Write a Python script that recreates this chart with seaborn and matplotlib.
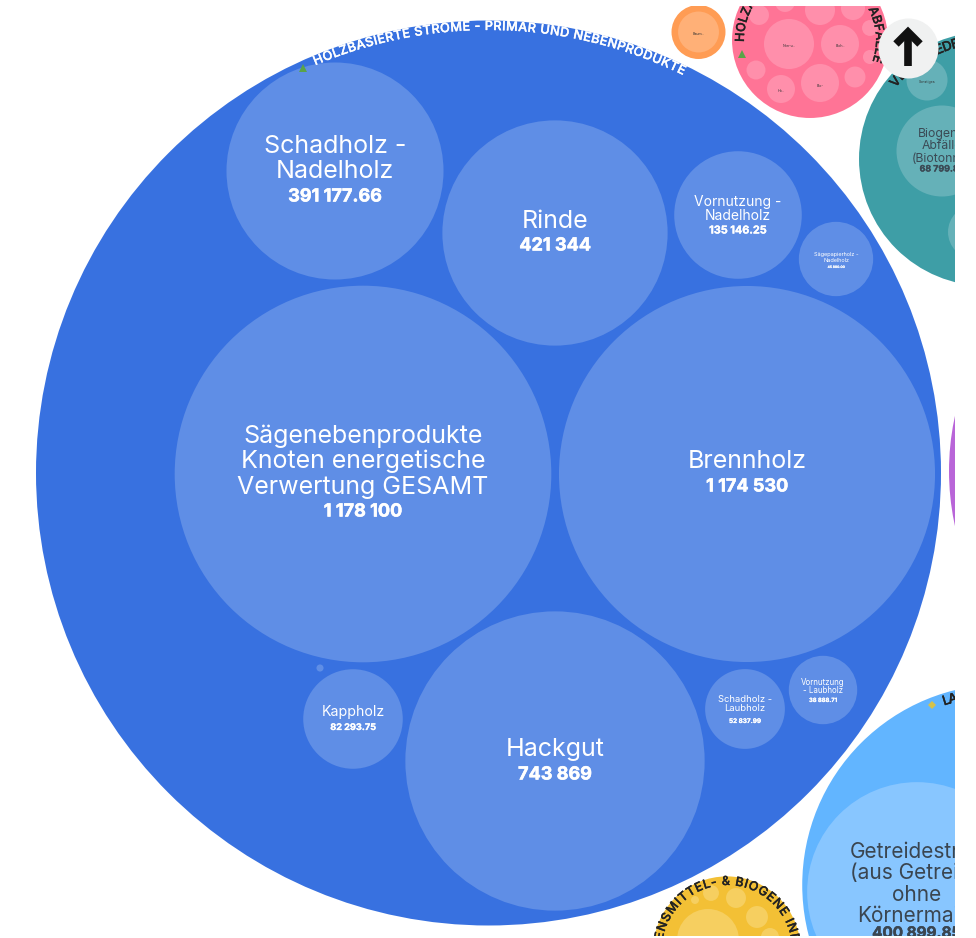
import numpy as np
import pandas as pd
import matplotlib
matplotlib.use("Agg")
import matplotlib.pyplot as plt
import matplotlib.patheffects as pe
import seaborn as sns
from matplotlib.font_manager import FontProperties
from matplotlib.textpath import TextPath

W, H = 976, 938
FONT = "Inter"
PX_PER_UNIT = 0.1735          # bubble radius (px) = k * sqrt(value)

# ---- values -------------------------------------------------------------
group_names = ["Holz", "Abfall", "Org", "Bio", "Lila", "Land", "Lebensm"]
group_values = [6802000, 202000, 24200, 535700, 2211000, 1339000, 180000]
group_colors = ["#3871e0", "#ff7496", "#ff9c54", "#3e9ea6", "#b965d8", "#62b5ff", "#f3c035"]
group_x = [488.5, 810, 698.5, 986, 1207, 1003, 727]
group_y = [473, 40, 32, 159, 471, 885, 950]

child_group = ["Holz"] * 11 + ["Abfall"] * 12 + ["Org"] + ["Bio"] * 3 + ["Land"] + ["Lebensm"] * 6
child_values = [391177.66, 421344, 135146.25, 45880, 1178100, 1174530, 743869, 82293.75, 52837.99, 38888.71, 420,
                20800, 12000, 12000, 6500, 3000, 3650, 3300, 7500, 4800, 3300, 2100, 1650,
                13900,
                14000, 68799.85, 24200,
                400899.85,
                31900, 3300, 4000, 2100, 530, 2700]
child_x = [335, 555, 738, 836, 363, 747, 555, 353, 745, 823, 320,
           789, 840, 820, 781, 756, 855, 759, 820, 853, 785, 870, 870,
           698.5,
           927, 942, 975,
           917,
           708, 736, 757, 711, 695, 770]
child_y = [171, 233, 215, 259, 474, 474, 761, 719, 709, 690, 668,
           44, 44, 83, 89, 70, 77, 15, 10, 8, 2, 28, 57,
           32,
           80, 151, 232,
           892,
           940, 898, 917, 893, 900, 937]
tint_colors = {"Holz": "#5f8ee6", "Abfall": "#ff8fab", "Org": "#ffb077", "Bio": "#65b1b8",
               "Land": "#88c6ff", "Lebensm": "#f6cf60"}

# ---- texts --------------------------------------------------------------
names = ["Schadholz -\nNadelholz", "Rinde", "Vornutzung -\nNadelholz", "Sägepapierholz -\nNadelholz",
         "Sägenebenprodukte\nKnoten energetische\nVerwertung GESAMT", "Brennholz", "Hackgut", "Kappholz",
         "Schadholz -\nLaubholz", "Vornutzung\n- Laubholz",
         "Biogene\nAbfälle\n(Biotonne)", "Getreidestroh\n(aus Getreide\nohne\nKörnermais)"]
numbers = ["391 177.66", "421 344", "135 146.25", "45 880.00", "1 178 100", "1 174 530", "743 869", "82 293.75",
           "52 837.99", "38 888.71", "68 799.85", "400 899.85"]
name_x = [335, 555, 738, 836, 363, 747, 555, 353, 745, 823, 942, 917]
name_top = [146, 221, 202, 254.5, 436, 461, 749, 712, 699, 682.5, 134, 852]
number_y = [197, 246, 230.5, 267, 512, 487, 775, 727.5, 721, 700.5, 169, 933]
name_size = [18, 18, 10, 4, 18, 18, 18, 10.2, 6.8, 5.7, 8.8, 15]
number_size = [13, 13, 7.8, 2.4, 13, 13, 13, 6.6, 4.6, 4.2, 6.4, 11]
name_colors = ["white"] * 10 + ["#3b4a55", "#3a4550"]

tiny_names = ["Non-u..", "Bioh..", "Bio-", "Ho..", "Baum..", "Sonstiges"]
tiny_x = [789, 840, 820, 781, 698, 927]
tiny_y = [46, 46, 86, 91, 34, 82]

arc_titles = ["HOLZBASIERTE STRÖME - PRIMÄR UND NEBENPRODUKTE",
              "HOLZARTIGE RESTSTOFFE & ABFÄLLE",
              "VERSCHIEDENE",
              "LANDWIRTSCHAFTLICHE RESTSTOFFE",
              "LEBENSMITTEL- & BIOGENE INDUSTRIE"]
arc_cx = [488.5, 810, 986, 1003, 727]
arc_cy = [473, 40, 159, 885, 950]
arc_r = [446, 69, 118, 192, 68]
arc_start = [-23.1, -92, -52, -18, -104]
arc_end = [26.1, 109, -5, 40, 127]
arc_color = ["white", "#222222", "#222222", "#222222", "#222222"]
arc_size = [9.2, 9, 9.5, 9.5, 9]

# ---- drawing ------------------------------------------------------------
sns.set_theme(style="white")
plt.rcParams["font.family"] = [FONT, "DejaVu Sans"]
fig = plt.figure(figsize=(W / 100, H / 100), dpi=100, facecolor="white")
ax = fig.add_axes([0, (H - 936) / H, 954.5 / W, 930 / H])
ax.set_xlim(0, 954.5)
ax.set_ylim(936, 6)
ax.axis("off")

ref = 10_000_000
size_at_ref = (2 * PX_PER_UNIT * 0.72) ** 2 * ref
sizes = (0, size_at_ref)

groups = pd.DataFrame({"name": group_names, "value": group_values, "x": group_x, "y": group_y})
sns.scatterplot(data=groups, x="x", y="y", hue="name", palette=dict(zip(group_names, group_colors)),
                size="value", sizes=sizes, size_norm=(0, ref), linewidth=0, edgecolor="none",
                legend=False, ax=ax, zorder=1)
children = pd.DataFrame({"group": child_group, "value": child_values, "x": child_x, "y": child_y})
sns.scatterplot(data=children, x="x", y="y", hue="group", palette=tint_colors,
                size="value", sizes=sizes, size_norm=(0, ref), linewidth=0, edgecolor="none",
                legend=False, ax=ax, zorder=2)
ax.set_xlim(0, 954.5)
ax.set_ylim(936, 6)
ax.set_xlabel("")
ax.set_ylabel("")


def bolden(col, w):
    return [pe.withStroke(linewidth=w, foreground=col)]


for nm, num, x, top, fs, nfs, col, ny in zip(names, numbers, name_x, name_top, name_size, number_size,
                                             name_colors, number_y):
    pitch = fs * 100 / 72 * 1.02
    y = top
    for line in nm.split("\n"):
        ax.text(x, y, line, ha="center", va="center", fontsize=fs, color=col, zorder=5, clip_on=True)
        y += pitch
    ax.text(x, ny, num, ha="center", va="center", fontsize=nfs, fontweight="bold",
            color=col, zorder=5, clip_on=True, path_effects=bolden(col, nfs * 0.03))

for t, x, y in zip(tiny_names, tiny_x, tiny_y):
    ax.text(x, y, t, ha="center", va="center", fontsize=2.6, color="#333333", zorder=5, clip_on=True)


def arc_text(s, cx, cy, r, th0, th1, color, fs):
    fp = FontProperties(family=FONT, weight="medium", size=fs)
    adv = []
    for i in range(len(s)):
        w1 = TextPath((0, 0), s[: i + 1] + "|", prop=fp).get_extents().width
        w0 = TextPath((0, 0), s[: i] + "|", prop=fp).get_extents().width
        adv.append(max(w1 - w0, 0.3 * fs) * 100 / 72)
    adv = np.array(adv)
    scale = np.deg2rad(th1 - th0) * r / adv.sum()
    pos = np.cumsum(adv) - adv / 2
    for ch, p in zip(s, pos):
        th = th0 + np.rad2deg(p * scale / r)
        a = np.deg2rad(th)
        ax.text(cx + r * np.sin(a), cy - r * np.cos(a), ch, rotation=-th, rotation_mode="anchor",
                ha="center", va="center", fontproperties=fp, color=color, zorder=4, clip_on=True,
                path_effects=bolden(color, 0.25))


for args in zip(arc_titles, arc_cx, arc_cy, arc_r, arc_start, arc_end, arc_color, arc_size):
    arc_text(*args)

# small icons on the group rings
ax.plot([303, 742], [68, 54], ls="", marker="^", ms=6, color="#5aa348", mew=0, zorder=4)
ax.plot([932], [705], ls="", marker="D", ms=4.5, color="#d6c24a", mew=0, zorder=4)

# navigation button
ax.scatter([908], [48], s=(60 * 0.72) ** 2, color="#f0f1f1", linewidth=0, zorder=8)
ax.plot([908, 908], [34, 66], color="#111111", lw=5.5, solid_capstyle="butt", zorder=9)
ax.plot([896, 908, 920], [44, 32, 44], color="#111111", lw=5.5, solid_joinstyle="miter",
        solid_capstyle="butt", zorder=9)

fig.savefig("out.png", dpi=100, facecolor="white")
